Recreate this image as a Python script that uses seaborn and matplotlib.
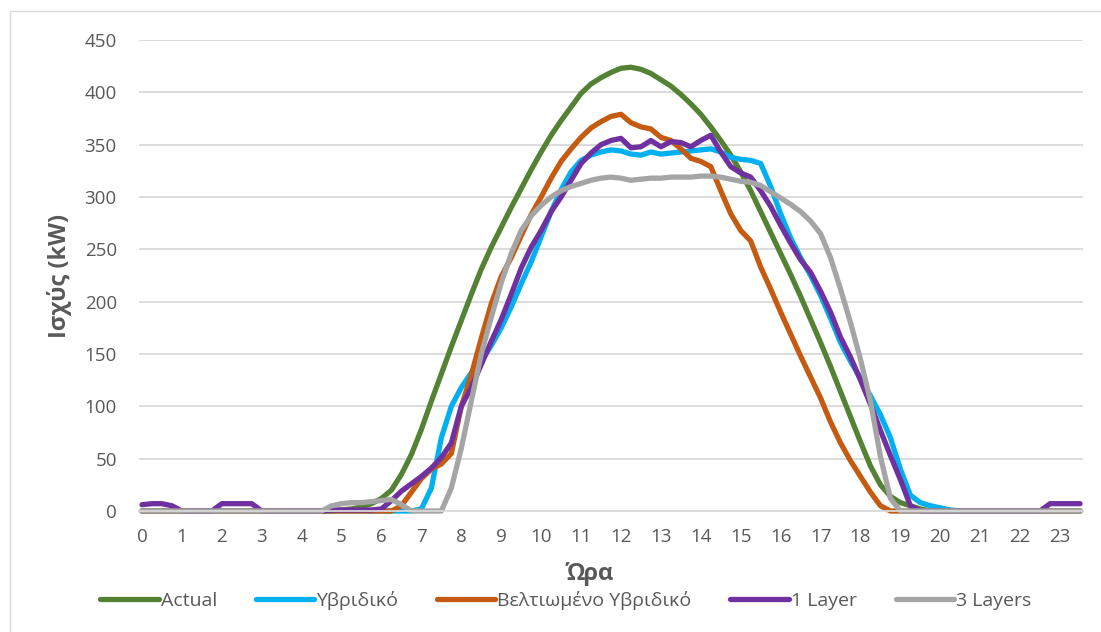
import numpy as np
import pandas as pd
import matplotlib
matplotlib.use("Agg")
import matplotlib.pyplot as plt
from matplotlib.patches import Rectangle
import seaborn as sns

# 15-minute samples from 00:00 to 23:30
hours = np.arange(0, 23.75, 0.25)

actual = [0] * 20 + [
    1, 2, 4, 7, 12, 20, 35, 54, 78, 105, 131, 157, 182, 207, 231, 252,
    271, 290, 308, 326, 343, 359, 373, 386, 399, 408, 414, 419, 423, 424,
    422, 418, 412, 406, 398, 389, 379, 367, 354, 340, 324, 306, 286, 266,
    246, 226, 205, 183, 161, 138, 114, 90, 66, 43, 25, 14, 8, 5, 2,
] + [0] * 16

hybrid = [0] * 28 + [
    2, 22, 70, 100, 118, 132, 143, 158, 175, 195, 217, 238, 262, 286, 307,
    324, 335, 340, 343, 345, 344, 341, 340, 343, 341, 342, 343, 344, 345,
    346, 343, 338, 336, 335, 332, 310, 284, 261, 242, 225, 206, 184, 161,
    143, 127, 110, 92, 70, 40, 15, 8, 5, 3, 1,
] + [0] * 13

improved = [0] * 26 + [
    5, 18, 31, 40, 45, 55, 100, 130, 165, 198, 224, 242, 263, 283, 300,
    318, 334, 346, 357, 366, 372, 377, 379, 371, 367, 365, 357, 354, 346,
    337, 334, 329, 306, 284, 268, 258, 233, 212, 190, 169, 148, 128, 108,
    85, 65, 48, 33, 18, 5,
] + [0] * 20

one_layer = [6, 7, 7, 5] + [0] * 4 + [7, 7, 7, 7] + [0] * 7 + [1, 1, 1, 1, 1] + [
    2, 10, 19, 26, 33, 41, 51, 65, 100, 118, 140, 162, 183, 207, 232, 252,
    268, 286, 300, 316, 332, 342, 350, 354, 356, 347, 348, 354, 348, 353,
    352, 348, 354, 359, 343, 329, 323, 319, 306, 291, 273, 256, 240, 228,
    210, 190, 166, 147, 125, 102, 77, 53, 30, 5,
] + [0] * 13 + [7, 7, 7, 7]

three_layers = [0] * 19 + [
    5, 7, 8, 8, 9, 10, 11, 6, 0, 0, 0, 0, 22, 60, 105, 150, 185, 218, 246,
    268, 282, 292, 300, 306, 310, 313, 316, 318, 319, 318, 316, 317, 318,
    318, 319, 319, 319, 320, 320, 319, 317, 315, 314, 311, 305, 299, 293,
    286, 277, 265, 242, 212, 180, 145, 105, 52, 12,
] + [0] * 19

series_names = ["Actual", "Υβριδικό", "Βελτιωμένο Υβριδικό", "1 Layer", "3 Layers"]
series_values = [actual, hybrid, improved, one_layer, three_layers]
series_colors = ["#548235", "#00B0F0", "#C55A11", "#7030A0", "#A5A5A5"]

x_ticks = list(range(24))
y_ticks = list(range(0, 451, 50))

df = pd.concat(
    [pd.DataFrame({"Ώρα": hours, "Ισχύς": vals, "series": name})
     for name, vals in zip(series_names, series_values)],
    ignore_index=True,
)

sns.set_theme(style="white")
plt.rcParams["font.family"] = ["Open Sans", "Noto Sans", "DejaVu Sans"]

text_color = "#595959"
grid_color = "#D9D9D9"

fig = plt.figure(figsize=(11.01, 6.32), dpi=100)
ax = fig.add_axes([139 / 1101, 1 - 511 / 632, (1083 - 139) / 1101, (511 - 40) / 632])

sns.lineplot(
    data=df, x="Ώρα", y="Ισχύς", hue="series", hue_order=series_names,
    palette=series_colors, linewidth=3.8, ax=ax,
)
for line in ax.lines:
    line.set_clip_on(False)
    line.set_solid_capstyle("round")
    line.set_solid_joinstyle("round")

ax.set_xlim(-0.075, 23.575)
ax.set_ylim(0, 450)
ax.set_xticks(x_ticks)
ax.set_yticks(y_ticks)
ax.yaxis.grid(True, color=grid_color, linewidth=1.3)
ax.set_axisbelow(True)
for side in ["left", "right", "top"]:
    ax.spines[side].set_visible(False)
ax.spines["bottom"].set_color(grid_color)
ax.spines["bottom"].set_linewidth(1.3)
ax.tick_params(axis="both", length=0, labelsize=13.5, labelcolor=text_color)
ax.tick_params(axis="x", pad=12)
ax.tick_params(axis="y", pad=16)

ax.set_xlabel("Ώρα", fontsize=17, fontweight="bold", color=text_color, labelpad=12)
ax.xaxis.label.set_x(0.478)
ax.set_ylabel("Ισχύς (kW)", fontsize=17, fontweight="bold", color=text_color, labelpad=9)

sns.move_legend(
    ax, "center", bbox_to_anchor=(0.452, -0.19), ncol=5, title=None,
    frameon=False, fontsize=14, handlelength=3.0, handletextpad=0.1,
    columnspacing=2.0, labelcolor=text_color,
)

fig.patches.append(Rectangle((10 / 1101, -0.05), 1.1, 1.05 - 11 / 632,
                             transform=fig.transFigure, fill=False,
                             edgecolor=grid_color, linewidth=1.0))

fig.savefig("out.png", dpi=100, facecolor="white")
